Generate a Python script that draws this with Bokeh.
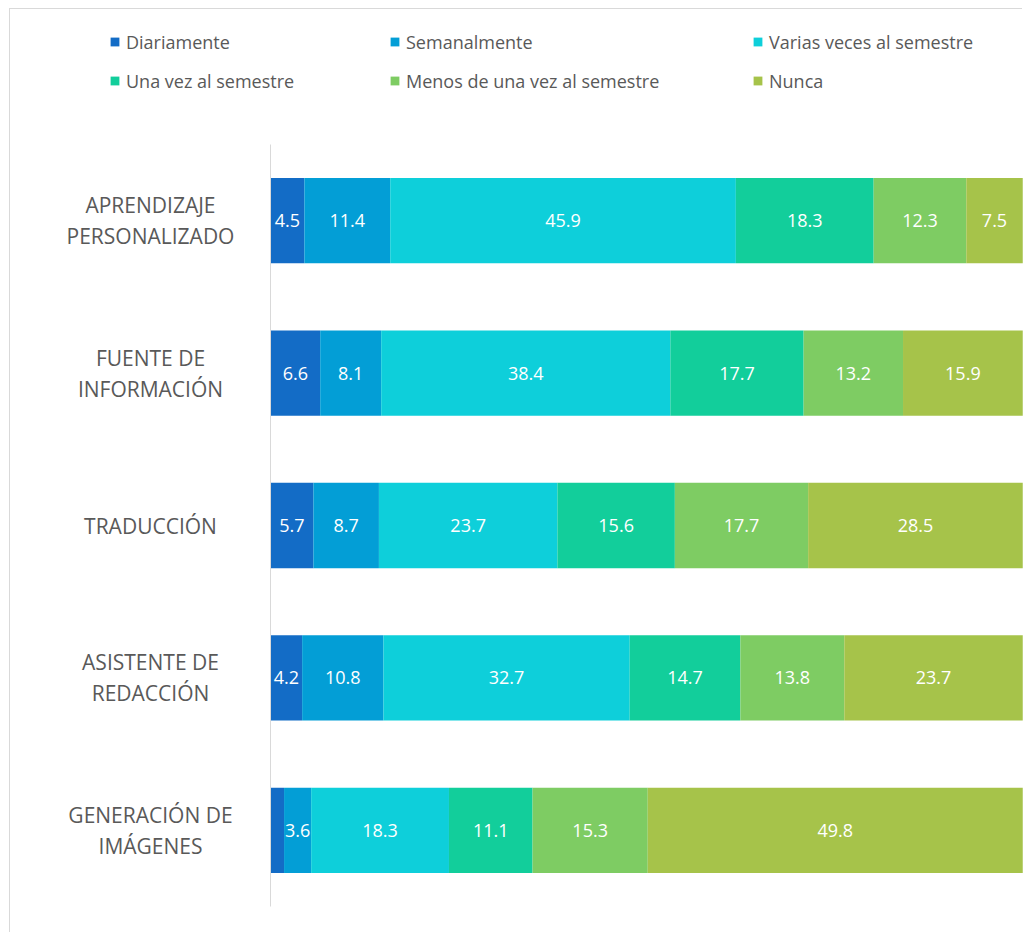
from bokeh.plotting import figure
from bokeh.models import (ColumnDataSource, FactorRange, Range1d, Legend, LegendItem,
                          LinearAxis, FixedTicker)
from bokeh.layouts import row
from bokeh.core.properties import value
from bokeh.embed import file_html
from bokeh.resources import INLINE

categories = ["APRENDIZAJE\nPERSONALIZADO", "FUENTE DE\nINFORMACIÓN", "TRADUCCIÓN",
              "ASISTENTE DE\nREDACCIÓN", "GENERACIÓN DE\nIMÁGENES"]
series = ["Diariamente", "Semanalmente", "Varias veces al semestre",
          "Una vez al semestre", "Menos de una vez al semestre", "Nunca"]
diariamente = [4.5, 6.6, 5.7, 4.2, 1.8]
semanalmente = [11.4, 8.1, 8.7, 10.8, 3.6]
varias_veces = [45.9, 38.4, 23.7, 32.7, 18.3]
una_vez = [18.3, 17.7, 15.6, 14.7, 11.1]
menos_de_una_vez = [12.3, 13.2, 17.7, 13.8, 15.3]
nunca = [7.5, 15.9, 28.5, 23.7, 49.8]
colors = ["#136CC6", "#039ED6", "#0ECFDA", "#12CE9B", "#7ECC63", "#A6C34A"]

values = [diariamente, semanalmente, varias_veces, una_vez, menos_de_una_vez, nunca]

FONT = "Open Sans"
GREY = "#595959"
BORDER = "1px solid #D9D9D9"
W = 1013
LAB_W = 250
H = 788

yr = FactorRange(factors=list(reversed(categories)))

# ---- category label column ----
lab = figure(width=LAB_W, height=H, output_backend="svg", toolbar_location=None,
             x_range=Range1d(0, LAB_W), y_range=yr, min_border=0,
             min_border_bottom=26, x_axis_location=None, y_axis_location=None)
lab.outline_line_color = None
lab.xgrid.visible = False
lab.ygrid.visible = False
lab.text(x=140, y=categories, text=categories, text_color=GREY,
         text_font=value(FONT), text_font_size="21px", text_align="center",
         text_baseline="middle", text_line_height=1.11)

# ---- main chart ----
p = figure(width=W - LAB_W, height=H, output_backend="svg", toolbar_location=None,
           y_range=yr, x_range=Range1d(0, 100),
           min_border_left=10, min_border_right=0, min_border_top=0,
           min_border_bottom=26, x_axis_location=None, y_axis_location=None)
p.outline_line_color = None
p.xgrid.visible = False
p.ygrid.visible = False

left = [0.0] * len(categories)
renderers = []
lab_x, lab_y, lab_t = [], [], []
for name, vals, col in zip(series, values, colors):
    right = [l + v for l, v in zip(left, vals)]
    src = ColumnDataSource(dict(y=categories, left=left, right=right))
    r = p.hbar(y="y", left="left", right="right", height=0.56, source=src,
               fill_color=col, line_color=None)
    renderers.append(r)
    for cat, l, rr, v in zip(categories, left, right, vals):
        if v >= 2:
            lab_x.append((l + rr) / 2)
            lab_y.append(cat)
            lab_t.append(f"{v:.1f}")
    left = right

p.text(x=lab_x, y=lab_y, text=lab_t, text_color="white",
       text_font=value(FONT), text_font_size="18px",
       text_align="center", text_baseline="middle")

# vertical axis line (no ticks, labels drawn in the label column)
yax = LinearAxis(ticker=FixedTicker(ticks=[]), axis_line_color="#D9D9D9",
                 major_tick_line_color=None, minor_tick_line_color=None,
                 major_tick_out=0, major_label_standoff=0)
p.add_layout(yax, "left")

chart = row(lab, p, spacing=0,
            styles={"margin-left": "9px", "border-left": BORDER, "vertical-align": "top"})

# ---- legend strip (separate root) ----
lf = figure(width=W, height=136, output_backend="svg", toolbar_location=None,
            x_range=Range1d(0, 1), y_range=Range1d(0, 1),
            min_border=0, x_axis_location=None, y_axis_location=None)
lf.styles = {"margin-left": "9px", "margin-top": "8px",
             "border-left": BORDER, "border-top": BORDER, "vertical-align": "top"}
lf.outline_line_color = None
lf.xgrid.visible = False
lf.ygrid.visible = False
legend_src = ColumnDataSource(dict(y=[0.5], left=[0.0], right=[0.0]))
dummies = [lf.hbar(y="y", left="left", right="right", height=0.0, source=legend_src,
                   fill_color=c, line_color=None) for c in colors]

cols_x = [99, 379, 742]
for ci in range(3):
    items = [LegendItem(label=series[ci], renderers=[dummies[ci]]),
             LegendItem(label=series[ci + 3], renderers=[dummies[ci + 3]])]
    lg = Legend(items=items, location=(cols_x[ci], 52), orientation="vertical",
                glyph_width=11, glyph_height=11, label_standoff=6,
                label_text_font=FONT, label_text_font_size="18px",
                label_text_color=GREY, label_height=25, spacing=14,
                padding=0, margin=0, border_line_color=None,
                background_fill_alpha=0)
    lf.add_layout(lg, "center")

open("out.html", "w").write(file_html([lf, chart], INLINE))
